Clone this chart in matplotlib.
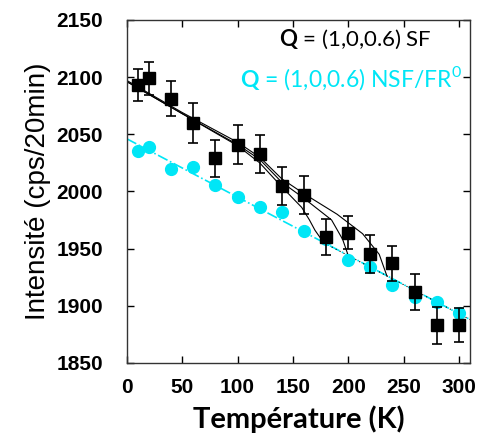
import numpy as np
import matplotlib
matplotlib.use("Agg")
import matplotlib.pyplot as plt

plt.rcParams["mathtext.fontset"] = "custom"
plt.rcParams["mathtext.rm"] = "Lato"
plt.rcParams["mathtext.bf"] = "Lato:bold"

# ── data ─────────────────────────────────────────────────────────────────────
T_SF = [10, 20, 40, 60, 80, 100, 120, 140, 160, 180, 200, 220, 240, 260, 280, 300]
I_SF = [2093, 2099, 2081, 2060, 2029, 2041, 2033, 2005, 1997, 1960, 1964, 1945, 1937, 1912, 1883, 1883]
E_SF = [14, 14.5, 15.5, 17.5, 16, 17, 16.5, 16.5, 16.5, 15.5, 14.5, 16.5, 15.5, 16, 16, 15]

T_NSF = [10, 20, 40, 60, 80, 100, 120, 140, 160, 180, 200, 220, 240, 260, 280, 300]
I_NSF = [2035, 2039, 2020, 2021, 2006, 1995, 1986, 1982, 1965, 1958, 1940, 1934, 1918, 1908, 1903, 1894]

# cyan guide line (dash-dot)
T_GUIDE = [0, 310]
I_GUIDE = [2046, 1888]

# three model curves (solid black), each ends on the cyan guide
T_MOD_A = [0, 50, 100, 120, 140, 158, 165, 170, 178]
I_MOD_A = [2096, 2068, 2040, 2025, 2004, 1986, 1975, 1966, 1955]
T_MOD_B = [0, 50, 100, 120, 140, 160, 185, 195, 200]
I_MOD_B = [2096, 2068, 2041, 2028, 2008, 1994, 1975, 1958, 1944]
T_MOD_C = [0, 50, 100, 120, 140, 160, 190, 213, 228, 235]
I_MOD_C = [2097, 2069, 2043, 2030, 2011, 1998, 1980, 1963, 1945, 1926]

# dotted black tail along the guide
T_TAIL = [178, 310]
I_TAIL = [1955, 1888]

CYAN = "#00E6F6"

fig = plt.figure(figsize=(4.84, 4.41), dpi=100)
ax = fig.add_axes([0.262, 0.177, 0.709, 0.778])

ax.plot(T_GUIDE, I_GUIDE, color=CYAN, lw=1.2, linestyle="-.", zorder=1)
for t, i in [(T_MOD_A, I_MOD_A), (T_MOD_B, I_MOD_B), (T_MOD_C, I_MOD_C)]:
    ax.plot(t, i, color="black", lw=0.8, zorder=2)
ax.plot(T_TAIL, I_TAIL, color="black", lw=0.8, linestyle=(0, (1, 3)), zorder=2)

ax.plot(T_NSF, I_NSF, "o", color=CYAN, markersize=8.5, zorder=3)
ax.errorbar(T_SF, I_SF, yerr=E_SF, fmt="s", color="black", markersize=9,
            ecolor="black", elinewidth=1.2, capsize=3.5, capthick=1.2, zorder=4)

ax.set_xlim(0, 310)
ax.set_ylim(1850, 2150)
ax.set_xticks([0, 50, 100, 150, 200, 250, 300])
ax.set_yticks([1850, 1900, 1950, 2000, 2050, 2100, 2150])

ax.tick_params(direction="in", length=5, width=1, top=True, right=True,
               labelsize=15)
ax.tick_params(axis="y", pad=17)
ax.tick_params(axis="x", pad=11)
for lab in ax.get_xticklabels() + ax.get_yticklabels():
    lab.set_fontweight("bold")
    lab.set_family("Liberation Sans")
for sp in ax.spines.values():
    sp.set_linewidth(1.0)
    sp.set_color("#333333")

ax.set_xlabel("Température (K)", fontsize=21, fontweight="bold",
              family="Lato", labelpad=6)
ax.set_ylabel("Intensité (cps/20min)", fontsize=20, family="Liberation Sans",
              labelpad=4)

ax.text(0.889, 0.942, r"$\mathbf{Q}$ = (1,0,0.6) SF", transform=ax.transAxes,
        ha="right", va="center", fontsize=16, family="Lato", color="black")
ax.text(0.977, 0.83, r"$\mathbf{Q}$ = (1,0,0.6) NSF/FR$^0$", transform=ax.transAxes,
        ha="right", va="center", fontsize=16.5, family="Lato", color=CYAN)

fig.savefig("out.png", dpi=100)
